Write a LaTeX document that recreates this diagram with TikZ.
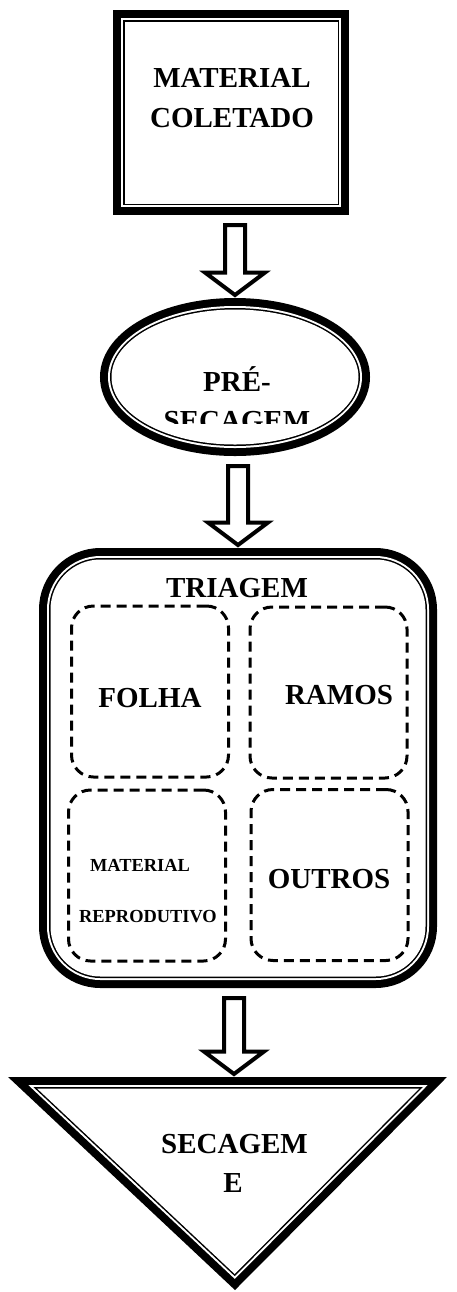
\documentclass[tikz,border=0pt]{standalone}
\usepackage{fontspec}
\setmainfont{Liberation Serif}
\usetikzlibrary{shapes.geometric,calc}

\tikzset{
  dblline/.style={draw, line width=11.5pt,
    postaction={draw=white, line width=3.5pt},
    postaction={draw=black, line width=1.5pt},
    postaction={fill=white}},
  dashbox/.style={draw, dash pattern=on 5pt off 3pt, line width=1.5pt,
    rounded corners=11pt, minimum width=78.5pt, minimum height=85.5pt, inner sep=0pt},
  bigtxt/.style={font=\fontsize{14.5}{20}\selectfont\bfseries, anchor=base, inner sep=0pt},
  smalltxt/.style={font=\fontsize{9.2}{12}\selectfont\bfseries, anchor=base, inner sep=0pt},
  blockarr/.style={draw, line width=2pt, fill=white}
}

% hollow block arrow from (#1) down to (#2)
\newcommand{\blockarrow}[2]{%
  \draw[blockarr] let \p1=(#1), \p2=(#2) in
    (\x2-5pt,\y1-5pt) -- (\x2-5pt,\y2+12.75pt) -- (\x2-15pt,\y2+12.75pt) -- (\x2,\y2+1.5pt)
    -- (\x2+15pt,\y2+12.75pt) -- (\x2+5pt,\y2+12.75pt) -- (\x2+5pt,\y1-5pt) -- cycle;}

\begin{document}
\begin{tikzpicture}[x=0.5pt,y=-0.5pt]
\useasboundingbox (0,0) rectangle (456,1292);

\node[dblline, rectangle, minimum width=106.5pt, minimum height=91pt, inner sep=0pt] (mc) at (231,112.5) {}; %top box
\node[dblline, ellipse, minimum width=123.5pt, minimum height=67.5pt, inner sep=0pt] (pre) at (235,377) {}; %oval
\node[dblline, rectangle, rounded corners=25pt, minimum width=187.5pt, minimum height=208.5pt, inner sep=0pt] (tri) at (238,768) {}; %sorting

\draw[dblline] (37.1,1088.5) -- (419.3,1088.5) -- (234.7,1274) -- cycle; %triangle
\coordinate (sectop) at (234,1077);

\node[dashbox] (folha) at (150,691.5) {};
\node[dashbox] (ramos) at (328.5,692.5) {};
\node[dashbox] (repro) at (147,875.5) {};
\node[dashbox] (outros) at (329.5,875) {};

\blockarrow{mc.south}{pre.north}
\blockarrow{pre.south}{tri.north}
\blockarrow{tri.south}{sectop}

\node[bigtxt] (mc1) at (232,87) {MATERIAL};
\node[bigtxt] (mc2) at (232,127) {COLETADO};

\node[bigtxt] (pre1) at (237,391) {PRÉ-};
\begin{scope}
\clip (100,395) rectangle (370,423);
\node[bigtxt] (pre2) at (237,430) {SECAGEM};
\end{scope}

\node[bigtxt] (tri1) at (237,597) {TRIAGEM};
\node[bigtxt] (folha1) at (150,707) {FOLHA};
\node[bigtxt] (ramos1) at (339,704) {RAMOS};
\node[smalltxt] (repro1) at (140,871) {MATERIAL};
\node[smalltxt] (repro2) at (148,922) {REPRODUTIVO};
\node[bigtxt] (outros1) at (329,888) {OUTROS};

\node[bigtxt] (sec1) at (234.5,1153) {SECAGEM};
\node[bigtxt] (sec2) at (233,1192) {E};
\end{tikzpicture}
\end{document}
